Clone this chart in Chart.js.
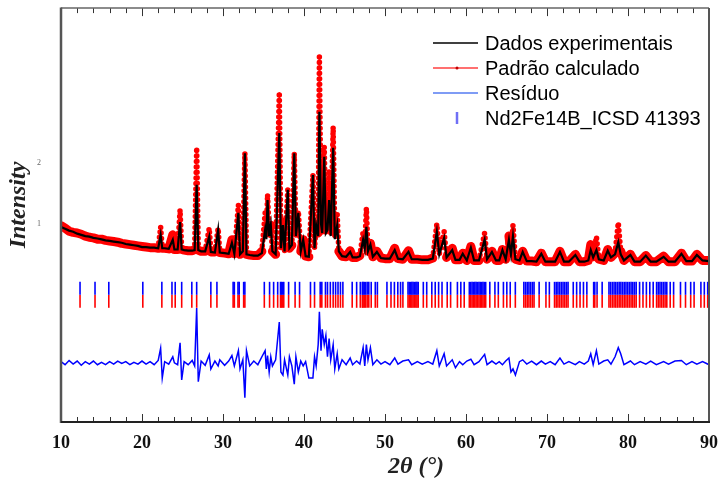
<!DOCTYPE html>
<html><head><meta charset="utf-8">
<script src="https://cdn.jsdelivr.net/npm/chart.js@4/dist/chart.umd.min.js"></script>
<style>html,body{margin:0;padding:0;background:#fff;}#wrap{width:722px;height:482px;position:relative;}</style>
</head><body><div id="wrap"><canvas id="c"></canvas></div>
<script>
// ---- data (2θ in degrees, intensity in arbitrary units) ----
const twoTheta = [
 10.0,10.5,11.0,11.5,12.0,12.5,13.0,13.5,14.0,14.5,
 15.0,15.5,16.0,16.5,17.0,17.5,18.0,18.5,19.0,19.5,
 20.0,20.5,21.0,21.5,22.0,22.3,22.5,22.8,23.3,23.8,
 24.0,24.4,24.7,24.9,25.2,25.7,26.2,26.5,26.75,26.95,
 27.3,27.8,28.3,28.5,29.0,29.4,29.6,30.2,30.7,31.1,
 31.4,31.9,32.1,32.45,32.7,32.9,33.3,33.8,34.3,34.8,
 35.2,35.35,35.5,35.7,35.9,36.1,36.5,36.95,37.15,37.4,
 37.6,38.0,38.2,38.5,38.8,39.0,39.3,39.6,39.9,40.2,
 40.6,41.1,41.3,41.5,41.75,41.9,42.1,42.25,42.5,42.7,
 42.9,43.1,43.3,43.6,43.8,44.1,44.3,44.7,45.2,45.7,
 46.0,46.5,46.9,47.3,47.5,47.7,47.9,48.2,48.5,49.0,
 49.5,50.0,50.6,51.2,51.6,52.2,52.9,53.3,54.0,54.6,
 55.3,55.9,56.4,56.7,57.3,57.6,58.3,58.7,59.2,59.6,
 60.1,60.6,61.0,61.6,62.3,62.6,63.2,63.7,64.1,64.5,
 64.9,65.3,65.55,65.8,66.1,66.6,67.0,67.5,68.1,68.7,
 69.3,69.8,70.4,71.0,71.6,72.1,72.7,73.5,74.0,74.6,
 75.1,75.4,75.7,76.1,76.4,77.0,77.5,77.9,78.4,78.8,
 79.1,79.5,80.3,80.8,81.5,82.2,82.8,83.5,84.4,85.0,
 85.8,86.6,87.2,87.9,88.5,89.2,90.0
];
const observed = [
 0.95,0.92,0.89,0.87,0.84,0.82,0.80,0.79,0.77,0.76,
 0.745,0.73,0.72,0.71,0.70,0.69,0.67,0.66,0.65,0.64,
 0.62,0.62,0.61,0.61,0.60,0.82,0.60,0.60,0.59,0.74,
 0.58,0.58,1.03,0.58,0.57,0.56,0.56,0.57,1.64,0.57,
 0.55,0.55,0.79,0.54,0.53,0.90,0.53,0.52,0.51,0.69,
 0.51,1.18,0.50,0.55,2.16,0.50,0.49,0.48,0.48,0.52,
 0.90,0.75,1.39,0.80,0.98,0.55,0.50,2.49,0.60,0.98,
 0.55,1.56,0.60,0.65,2.16,0.80,1.18,0.55,0.74,0.47,
 0.46,1.80,0.60,0.98,0.80,2.84,1.00,0.85,2.10,0.85,
 0.90,1.39,0.80,2.25,0.75,0.98,0.55,0.47,0.46,0.54,
 0.45,0.45,0.47,0.74,0.60,0.95,0.55,0.66,0.46,0.54,
 0.44,0.43,0.43,0.57,0.43,0.42,0.54,0.42,0.42,0.41,
 0.41,0.43,0.87,0.50,0.77,0.45,0.57,0.41,0.41,0.51,
 0.40,0.61,0.40,0.40,0.74,0.42,0.54,0.40,0.40,0.57,
 0.42,0.74,0.50,0.80,0.42,0.40,0.54,0.39,0.39,0.38,
 0.51,0.38,0.38,0.38,0.54,0.38,0.38,0.49,0.38,0.38,
 0.40,0.57,0.45,0.57,0.42,0.40,0.56,0.45,0.50,0.70,
 0.50,0.40,0.49,0.38,0.38,0.48,0.38,0.38,0.46,0.38,
 0.38,0.51,0.39,0.39,0.49,0.40,0.39
];
const calculated = [
 0.97,0.93,0.88,0.86,0.85,0.83,0.80,0.78,0.77,0.75,
 0.75,0.73,0.72,0.71,0.70,0.68,0.67,0.66,0.65,0.64,
 0.63,0.62,0.61,0.61,0.60,0.95,0.60,0.60,0.59,0.82,
 0.58,0.58,1.23,0.58,0.57,0.56,0.56,0.58,2.25,0.57,
 0.55,0.55,0.93,0.54,0.54,0.93,0.53,0.52,0.51,0.74,
 0.51,1.31,0.50,0.55,2.16,0.50,0.49,0.48,0.48,0.55,
 1.18,0.80,1.48,0.85,0.98,0.55,0.50,3.16,0.60,1.07,
 0.55,1.56,0.60,0.65,2.16,0.80,1.21,0.55,0.74,0.47,
 0.46,1.80,0.60,0.98,0.85,3.74,1.10,0.90,2.26,0.90,
 0.95,1.89,0.85,2.59,0.80,1.15,0.55,0.47,0.46,0.56,
 0.45,0.45,0.48,0.87,0.62,1.26,0.55,0.68,0.46,0.55,
 0.44,0.43,0.43,0.60,0.43,0.42,0.56,0.42,0.42,0.41,
 0.41,0.44,1.00,0.50,0.87,0.45,0.60,0.41,0.41,0.52,
 0.40,0.63,0.40,0.40,0.85,0.42,0.55,0.40,0.40,0.58,
 0.42,0.80,0.52,0.98,0.42,0.40,0.55,0.39,0.39,0.38,
 0.52,0.38,0.38,0.38,0.55,0.38,0.38,0.50,0.38,0.38,
 0.40,0.66,0.46,0.79,0.42,0.40,0.58,0.45,0.52,1.02,
 0.55,0.40,0.50,0.38,0.38,0.48,0.38,0.38,0.47,0.38,
 0.38,0.52,0.39,0.39,0.50,0.40,0.40
];
const residual = [
 0.02,-0.03,0.04,-0.02,0.03,-0.04,0.02,-0.02,0.03,-0.03,
 0.01,-0.03,0.02,-0.02,0.03,-0.01,0.02,-0.03,0.01,-0.02,
 0.03,-0.02,0.02,-0.03,0.04,0.24,-0.25,0.02,-0.02,0.10,
 0.00,-0.03,0.33,-0.28,0.02,-0.03,0.04,-0.05,0.90,-0.31,
 0.03,-0.04,0.13,-0.10,0.03,-0.05,0.05,-0.04,0.03,0.12,
 -0.05,0.20,-0.10,0.05,-0.57,0.20,-0.05,0.03,-0.03,0.10,
 0.20,-0.10,0.12,-0.15,0.10,-0.05,0.05,0.67,-0.15,-0.20,
 0.05,-0.20,0.10,-0.05,-0.35,0.10,-0.15,0.03,-0.05,0.02,
 -0.25,-0.25,0.10,-0.05,0.30,0.84,0.20,0.55,0.30,0.45,
 0.10,0.40,0.05,0.30,-0.10,0.15,-0.10,0.05,-0.03,0.08,
 -0.03,0.03,-0.02,0.25,-0.05,0.30,0.05,0.25,-0.03,0.05,
 -0.02,0.02,-0.03,0.08,-0.02,0.03,0.05,-0.03,0.02,-0.02,
 0.02,-0.02,0.20,-0.05,0.15,-0.05,0.05,-0.08,0.02,-0.03,
 0.03,0.06,-0.03,0.02,0.14,-0.03,0.03,-0.02,0.02,-0.03,
 0.03,0.08,-0.15,-0.10,-0.20,0.02,0.05,-0.02,0.03,-0.03,
 0.03,-0.02,0.02,-0.03,0.08,-0.02,0.02,-0.03,0.02,-0.02,
 0.03,0.15,-0.03,0.20,-0.02,0.03,0.05,-0.02,0.10,0.25,
 0.15,-0.03,0.03,-0.03,0.02,-0.02,0.03,-0.03,0.02,-0.02,
 0.03,0.04,-0.03,0.02,-0.02,0.02,-0.03
];
const reflections = [
 12.35,14.2,15.9,20.1,22.45,23.7,24.1,24.9,26.15,26.75,28.5,29.25,31.25,31.4,31.85,32.0,32.55,32.7,
 35.1,35.75,36.25,36.75,37.1,37.2,37.35,37.5,38.1,38.9,39.45,40.8,41.3,42.0,42.2,42.65,42.9,43.25,
 43.6,43.9,44.2,44.5,44.8,45.95,46.5,46.95,47.2,47.3,47.45,47.6,47.8,48.0,48.3,48.8,49.06,50.24,
 50.74,51.16,51.58,51.92,52.21,52.84,53.0,53.18,53.32,53.47,53.64,53.81,53.95,54.1,54.73,55.15,
 55.78,56.2,56.62,57.04,57.68,58.1,58.94,59.36,59.78,60.41,60.58,60.75,60.92,61.09,61.25,61.42,
 61.6,61.76,61.92,62.09,62.25,62.43,62.94,63.57,63.99,64.62,65.04,65.46,66.09,67.14,67.35,67.56,
 67.77,67.98,68.2,68.4,69.03,69.87,70.29,70.93,71.14,71.35,71.56,71.77,71.98,72.19,72.4,72.6,
 73.24,73.66,74.08,74.5,74.92,75.76,75.9,76.18,76.81,77.65,77.85,78.07,78.28,78.49,78.7,78.91,
 79.12,79.33,79.54,79.75,79.96,80.17,80.38,80.59,80.8,81.01,81.43,81.85,82.27,82.69,83.11,83.53,
 83.74,83.95,84.16,84.37,84.58,84.79,85.21,85.63,86.48,87.1,87.74,88.16,89.0,89.42,89.84,89.95
];
const xTickValues = [10,20,30,40,50,60,70,80,90];
const yTickValues = [1,2];
const seriesNames = ['Dados experimentais','Padrão calculado','Resíduo','Nd2Fe14B_ICSD 41393'];
const xTitle = '2θ (°)';
const yTitle = 'Intensity';

// ---- drawing ----
const RES_OFFSET = -1.28;   // vertical offset of the residual curve
const ROW_BLUE = -0.057, ROW_RED = -0.27; // rows of reflection markers
const pts = (ys, off) => twoTheta.map((x, i) => ({x, y: ys[i] + (off || 0)}));
// steep flanks of the calculated pattern are drawn as a column of dots, as in the reference
const steep = c => {
  const a = c.p0DataIndex, b = c.p1DataIndex;
  return Math.abs(calculated[b] - calculated[a]) > 0.3 ||
         Math.max(calculated[a] - observed[a], calculated[b] - observed[b]) > 0.12;
};

const decor = {
  id: 'decor',
  afterDatasetsDraw(chart) {
    const {ctx, chartArea: a, scales: {x}} = chart;
    ctx.save();
    ctx.lineWidth = 1;
    ctx.strokeStyle = '#333';
    for (let v = x.min + 2; v < x.max; v += 2) {
      const px = Math.round(x.getPixelForValue(v)) + 0.5;
      const len = xTickValues.includes(v) ? 8 : 5;
      ctx.beginPath();
      ctx.moveTo(px, a.bottom); ctx.lineTo(px, a.bottom - len);
      ctx.moveTo(px, a.top); ctx.lineTo(px, a.top + len);
      ctx.stroke();
    }
    const seg = (x1, y1, x2, y2, c, w) => { ctx.strokeStyle = c; ctx.lineWidth = w; ctx.beginPath(); ctx.moveTo(x1, y1); ctx.lineTo(x2, y2); ctx.stroke(); };
    seg(a.left, a.top, a.right, a.top, '#666', 1.5);
    seg(a.right, a.top, a.right, a.bottom, '#555', 2);
    seg(a.left, a.top - 0.7, a.left, a.bottom + 1, '#555', 2.5);
    seg(a.left, a.bottom, a.right + 1, a.bottom, '#222', 2);
    ctx.restore();
  },
  afterDraw(chart) {
    const {ctx} = chart;
    ctx.save();
    const x0 = 433, x1 = 478, tx = 485, y0 = 43, gap = 25;
    ctx.font = '20px "Liberation Sans", Arial, sans-serif';
    ctx.textBaseline = 'middle';
    ctx.textAlign = 'left';
    const ls = [
      {c: '#000', w: 1.5},
      {c: '#ff4040', w: 1.5, dot: '#c00000'},
      {c: '#7f9cf5', w: 2},
      {bar: '#6f6ff5'}
    ];
    ls.forEach((s, i) => {
      const y = y0 + i * gap;
      if (s.bar) {
        ctx.strokeStyle = s.bar; ctx.lineWidth = 2.5;
        ctx.beginPath(); ctx.moveTo(457, y - 6); ctx.lineTo(457, y + 6); ctx.stroke();
      } else {
        ctx.strokeStyle = s.c; ctx.lineWidth = s.w;
        ctx.beginPath(); ctx.moveTo(x0, y); ctx.lineTo(x1, y); ctx.stroke();
        if (s.dot) { ctx.fillStyle = s.dot; ctx.beginPath(); ctx.arc(457, y, 1.5, 0, Math.PI * 2); ctx.fill(); }
      }
      ctx.fillStyle = '#000';
      ctx.fillText(seriesNames[i], tx, y + 1);
    });
    ctx.fillStyle = '#222';
    ctx.font = 'italic bold 24px "Liberation Serif", "Times New Roman", serif';
    ctx.textAlign = 'center';
    ctx.fillText(xTitle, 416, 467);
    ctx.translate(19, 205);
    ctx.rotate(-Math.PI / 2);
    ctx.fillText(yTitle, 0, 0);
    ctx.restore();
  }
};

new Chart(document.getElementById('c'), {
  type: 'line',
  data: {
    datasets: [
      {label: seriesNames[0], data: pts(observed), borderColor: '#000', borderWidth: 2.2, pointRadius: 0, tension: 0, order: 0},
      {label: seriesNames[1], data: pts(calculated), borderColor: '#ff0000', borderWidth: 9, borderJoinStyle: 'round', borderCapStyle: 'round', pointRadius: 0, tension: 0, order: 1,
       segment: {borderWidth: c => steep(c) ? 5.5 : 9, borderDash: c => steep(c) ? [0, 5.5] : undefined}},
      {label: seriesNames[2], data: pts(residual, RES_OFFSET), borderColor: '#0000ff', borderWidth: 1.5, pointRadius: 0, tension: 0, order: 2},
      {label: seriesNames[3], data: reflections.map(x => ({x, y: ROW_BLUE})), showLine: false, pointStyle: 'line', rotation: 90, pointRadius: 6.5, borderColor: '#0000ff', borderWidth: 1.6, order: 3},
      {label: seriesNames[3] + ' ', data: reflections.map(x => ({x, y: ROW_RED})), showLine: false, pointStyle: 'line', rotation: 90, pointRadius: 6.5, borderColor: '#ff0000', borderWidth: 1.6, order: 3}
    ]
  },
  options: {
    responsive: true, maintainAspectRatio: false, animation: false, events: [],
    layout: {padding: {left: 0, right: 13, top: 8, bottom: 0}},
    plugins: {legend: {display: false}, tooltip: {enabled: false}},
    scales: {
      x: {
        type: 'linear', min: 10, max: 90,
        afterBuildTicks: s => { s.ticks = xTickValues.map(v => ({value: v})); },
        afterFit: s => { s.height = 60; s.paddingLeft = 0; s.paddingRight = 0; },
        ticks: {font: {family: '"Liberation Serif", "Times New Roman", serif', weight: 'bold', size: 18}, color: '#111', padding: 3, maxRotation: 0, autoSkip: false},
        grid: {display: false}, border: {display: false}
      },
      y: {
        min: -2.25, max: 4.54,
        afterBuildTicks: s => { s.ticks = yTickValues.map(v => ({value: v})); },
        afterFit: s => { s.width = 61; s.paddingTop = 0; s.paddingBottom = 0; },
        ticks: {font: {family: '"Liberation Serif", serif', size: 8}, color: '#666', padding: 12},
        grid: {display: false}, border: {display: false}
      }
    }
  },
  plugins: [decor]
});
</script></body></html>
